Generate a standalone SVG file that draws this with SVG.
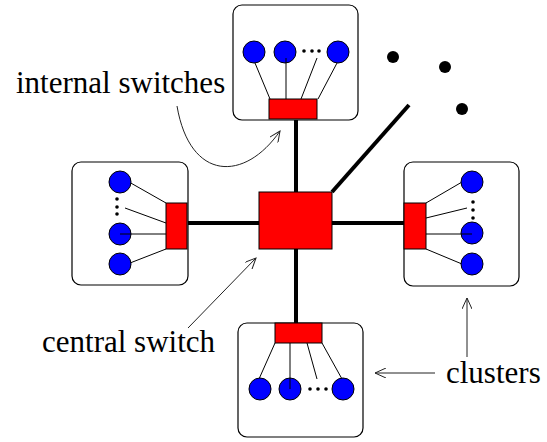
<svg xmlns="http://www.w3.org/2000/svg" width="547" height="442" viewBox="0 0 547 442">
<style>
.box{fill:#fff;stroke:#000;stroke-width:1.2}
.sw{fill:#f00;stroke:#000;stroke-width:1}
.node{fill:#00f;stroke:#000;stroke-width:1}
.thin{stroke:#000;stroke-width:1;fill:none}
.thick{stroke:#000;stroke-width:4;fill:none}
.dot{fill:#000}
.lbl{font-family:"Liberation Serif",serif;font-size:31px;fill:#000}
.ann{stroke:#222;stroke-width:1;fill:none;marker-end:url(#open)}
</style>
<defs>
<marker id="open" viewBox="0 0 12 10" refX="11" refY="5" markerWidth="12" markerHeight="10" markerUnits="userSpaceOnUse" orient="auto">
<path d="M0,0 L11,5 L0,10" fill="none" stroke="#222" stroke-width="1"/>
</marker>
</defs>
<g id="connectors">
<line class="thick" x1="296" y1="119" x2="296" y2="192"/>
<line class="thick" x1="296" y1="249" x2="296" y2="323"/>
<line class="thick" x1="187" y1="223" x2="259" y2="223"/>
<line class="thick" x1="332" y1="223" x2="404" y2="223"/>
<line class="thick" x1="332" y1="192" x2="409" y2="105"/>
</g>
<g id="more-dots">
<circle class="dot" cx="393" cy="57" r="6"/>
<circle class="dot" cx="445" cy="67" r="6"/>
<circle class="dot" cx="462" cy="109" r="6"/>
</g>
<g id="central-switch">
<rect class="sw" x="259" y="192" width="73" height="57"/>
</g>
<g id="cluster-top">
<rect class="box" x="233" y="5" width="125" height="115" rx="9"/>
<line class="thin" x1="255" y1="63" x2="270" y2="99"/>
<line class="thin" x1="317" y1="58" x2="301" y2="99"/>
<line class="thin" x1="337" y1="63" x2="318" y2="99"/>
<circle class="node" cx="254" cy="52" r="11"/>
<circle class="node" cx="285" cy="52" r="11"/>
<circle class="node" cx="338" cy="52" r="11"/>
<line class="thin" x1="286" y1="58" x2="286" y2="99"/>
<circle class="dot" cx="304" cy="51" r="1.8"/>
<circle class="dot" cx="312" cy="51" r="1.8"/>
<circle class="dot" cx="319" cy="51" r="1.8"/>
<rect class="sw" x="269" y="99" width="48" height="20"/>
</g>
<g id="cluster-left">
<rect class="box" x="72" y="162" width="116" height="123" rx="9"/>
<line class="thin" x1="129" y1="182" x2="166" y2="203"/>
<line class="thin" x1="125" y1="208" x2="166" y2="223"/>
<line class="thin" x1="130" y1="263" x2="166" y2="249"/>
<circle class="node" cx="120" cy="182" r="11"/>
<circle class="node" cx="120" cy="234" r="11"/>
<circle class="node" cx="120" cy="264" r="11"/>
<circle class="dot" cx="117" cy="199" r="1.8"/>
<circle class="dot" cx="117" cy="207" r="1.8"/>
<circle class="dot" cx="117" cy="214" r="1.8"/>
<line class="thin" x1="120" y1="234" x2="166" y2="234"/>
<rect class="sw" x="166" y="203" width="21" height="46"/>
</g>
<g id="cluster-right">
<rect class="box" x="404" y="162" width="115" height="124" rx="9"/>
<line class="thin" x1="426" y1="203" x2="462" y2="182"/>
<line class="thin" x1="426" y1="218" x2="467" y2="208"/>
<line class="thin" x1="426" y1="249" x2="462" y2="264"/>
<circle class="node" cx="472" cy="182" r="11"/>
<circle class="node" cx="472" cy="233" r="11"/>
<circle class="node" cx="472" cy="264" r="11"/>
<circle class="dot" cx="473" cy="202" r="1.8"/>
<circle class="dot" cx="473" cy="210" r="1.8"/>
<circle class="dot" cx="473" cy="218" r="1.8"/>
<line class="thin" x1="426" y1="234" x2="472" y2="234"/>
<rect class="sw" x="404" y="203" width="22" height="46"/>
</g>
<g id="cluster-bottom">
<rect class="box" x="238" y="323" width="125" height="114" rx="9"/>
<line class="thin" x1="275" y1="343" x2="259" y2="379"/>
<line class="thin" x1="307" y1="343" x2="317" y2="379"/>
<line class="thin" x1="322" y1="343" x2="342" y2="379"/>
<circle class="node" cx="260" cy="389" r="11"/>
<circle class="node" cx="290" cy="389" r="11"/>
<circle class="node" cx="343" cy="389" r="11"/>
<line class="thin" x1="290" y1="343" x2="290" y2="389"/>
<circle class="dot" cx="310" cy="389" r="1.8"/>
<circle class="dot" cx="318" cy="389" r="1.8"/>
<circle class="dot" cx="326" cy="389" r="1.8"/>
<rect class="sw" x="275" y="323" width="47" height="20"/>
</g>
<g id="labels">
<text class="lbl" x="16" y="93">internal switches</text>
<text class="lbl" x="42" y="352">central switch</text>
<text class="lbl" x="446" y="383">clusters</text>
<path class="ann" d="M177,106 C190,182 245,182 280,131"/>
<line class="ann" x1="188" y1="328" x2="256" y2="258"/>
<line class="ann" x1="467" y1="357" x2="467" y2="298"/>
<line class="ann" x1="435" y1="373" x2="375" y2="373"/>
</g>
</svg>
